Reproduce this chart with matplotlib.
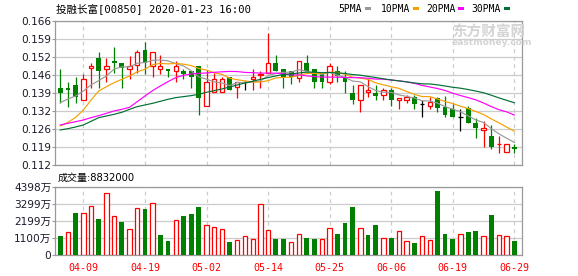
import numpy as np
import matplotlib
matplotlib.use("Agg")
import matplotlib.pyplot as plt
from matplotlib.patches import Rectangle

# ---------------- data ----------------
title_text = "投融长富[00850] 2020-01-23 16:00"
volume_title = "成交量:8832000"

open_ = [0.14100, 0.140875, 0.142125, 0.136375, 0.148375, 0.15225, 0.14825, 0.151125, 0.150375, 0.14825,
         0.149625, 0.15525, 0.14925, 0.14825, 0.148, 0.1475, 0.147375, 0.147375, 0.14925, 0.134125,
         0.139375, 0.139375, 0.145, 0.14125, 0.143125, 0.14425, 0.146, 0.1465, 0.150375, 0.148125,
         0.147375, 0.144625, 0.150375, 0.148125, 0.146125, 0.143375, 0.147375, 0.14525, 0.13925, 0.136375,
         0.139375, 0.13925, 0.138375, 0.14025, 0.136375, 0.136375, 0.1375, 0.135, 0.134125, 0.137125,
         0.13375, 0.133, 0.13, 0.133375, 0.128, 0.12525, 0.123, 0.119875, 0.116875, 0.118875]
close = [0.13925, 0.140375, 0.1375, 0.14425, 0.14925, 0.1475, 0.149125, 0.150375, 0.148375, 0.149125,
         0.154375, 0.1505, 0.154375, 0.149125, 0.147375, 0.14925, 0.146375, 0.14525, 0.137375, 0.14325,
         0.14425, 0.14425, 0.140375, 0.143125, 0.143125, 0.145, 0.146375, 0.15025, 0.1475, 0.14525,
         0.14525, 0.151, 0.1475, 0.143375, 0.143375, 0.14925, 0.1455, 0.143375, 0.136375, 0.142,
         0.14025, 0.138125, 0.140125, 0.136375, 0.137125, 0.1375, 0.135, 0.135, 0.135875, 0.133375,
         0.130875, 0.13, 0.13, 0.128, 0.126, 0.126, 0.118875, 0.12, 0.12, 0.118]
high = [0.148, 0.14325, 0.145, 0.14625, 0.1505, 0.1545, 0.152375, 0.156375, 0.150375, 0.153125,
        0.15525, 0.15825, 0.154375, 0.1535, 0.148, 0.151, 0.14825, 0.147375, 0.14925, 0.14775,
        0.1465, 0.145, 0.145, 0.143125, 0.1435, 0.148, 0.147375, 0.1615, 0.1535, 0.148125,
        0.147375, 0.151, 0.1535, 0.148125, 0.146125, 0.1505, 0.14925, 0.147375, 0.14225, 0.142,
        0.14425, 0.142, 0.140875, 0.141125, 0.137125, 0.138375, 0.138375, 0.136375, 0.1375, 0.1375,
        0.138, 0.135125, 0.133, 0.13425, 0.129625, 0.12875, 0.127, 0.123, 0.12, 0.12]
low = [0.13525, 0.134, 0.13525, 0.136375, 0.141125, 0.141125, 0.143375, 0.1465, 0.141, 0.144375,
       0.1465, 0.146375, 0.14525, 0.14625, 0.14525, 0.143375, 0.1445, 0.141125, 0.131, 0.134125,
       0.139375, 0.139375, 0.140375, 0.137375, 0.140375, 0.140375, 0.141125, 0.1465, 0.1475, 0.141125,
       0.142375, 0.143375, 0.1465, 0.141125, 0.141125, 0.142375, 0.143375, 0.13925, 0.135125, 0.132125,
       0.1375, 0.136375, 0.136375, 0.134125, 0.133125, 0.13525, 0.133125, 0.13025, 0.13325, 0.132125,
       0.13, 0.13, 0.125, 0.128, 0.122125, 0.119, 0.118, 0.11675, 0.116875, 0.11675]

ma5 = [0.1355, 0.13688, 0.138, 0.13988, 0.14213, 0.14378, 0.14553, 0.1481, 0.14893, 0.1489,
       0.15028, 0.15055, 0.15135, 0.1515, 0.15115, 0.15013, 0.1493, 0.14748, 0.14513, 0.1443,
       0.1433, 0.14288, 0.1419, 0.14305, 0.14303, 0.14318, 0.1436, 0.14558, 0.14645, 0.14688,
       0.14693, 0.14785, 0.1473, 0.14648, 0.1461, 0.1469, 0.1458, 0.14498, 0.14358, 0.1433,
       0.1415, 0.14003, 0.13938, 0.13938, 0.1384, 0.13785, 0.13725, 0.1362, 0.1361, 0.13535,
       0.13403, 0.13305, 0.13208, 0.1305, 0.12903, 0.12805, 0.12578, 0.12378, 0.12218, 0.12058]
ma10 = [0.12675, 0.12813, 0.13, 0.13275, 0.1365, 0.13988, 0.1415, 0.143, 0.14425, 0.14551,
        0.14703, 0.14804, 0.14973, 0.15021, 0.15003, 0.1502, 0.14993, 0.14941, 0.14831, 0.14773,
        0.14671, 0.14609, 0.14469, 0.14409, 0.14366, 0.14324, 0.14324, 0.14374, 0.14475, 0.14495,
        0.14505, 0.14573, 0.14644, 0.14646, 0.14649, 0.14691, 0.14683, 0.14614, 0.14503, 0.1447,
        0.1442, 0.14291, 0.14218, 0.14148, 0.14085, 0.13968, 0.13864, 0.13779, 0.13774, 0.13688,
        0.13594, 0.13515, 0.13414, 0.1333, 0.13219, 0.13104, 0.12941, 0.12793, 0.12634, 0.1248]
ma20 = [0.127125, 0.12775, 0.128375, 0.129, 0.129875, 0.130625, 0.1315, 0.132375, 0.133, 0.13375,
        0.135875, 0.138, 0.14, 0.14175, 0.143375, 0.144875, 0.14575, 0.14625, 0.1465, 0.14662,
        0.14687, 0.14706, 0.14721, 0.14715, 0.14684, 0.14672, 0.14658, 0.14658, 0.14653, 0.14634,
        0.14588, 0.14591, 0.14556, 0.14528, 0.14508, 0.14508, 0.14503, 0.14494, 0.14489, 0.14483,
        0.14463, 0.14432, 0.14431, 0.14397, 0.14367, 0.14329, 0.14273, 0.14196, 0.14138, 0.14079,
        0.14007, 0.13903, 0.13816, 0.13739, 0.13652, 0.13536, 0.13403, 0.13286, 0.13204, 0.13084]
ma30 = [0.12525, 0.12575, 0.126375, 0.127125, 0.1285, 0.129875, 0.1305, 0.131125, 0.131875, 0.133,
        0.134, 0.134625, 0.13525, 0.136, 0.13675, 0.137375, 0.13775, 0.138125, 0.138625, 0.139375,
        0.14, 0.140625, 0.141375, 0.142125, 0.142875, 0.1435, 0.14425, 0.144875, 0.1455, 0.14606,
        0.14626, 0.14662, 0.14695, 0.14692, 0.14673, 0.14678, 0.14666, 0.14643, 0.14603, 0.14579,
        0.14532, 0.14491, 0.14443, 0.14401, 0.14367, 0.14328, 0.1429, 0.14255, 0.1425, 0.14218,
        0.14173, 0.14126, 0.14092, 0.14041, 0.13984, 0.13921, 0.13829, 0.13728, 0.13637, 0.13546]

# volume in 万 (10^4 shares)
volume = [1223, 1459, 2703, 2682, 3132, 2317, 3969, 2489, 2124, 1652,
          3004, 2961, 3325, 1287, 901, 2231, 2510, 2639, 3089, 1909,
          1781, 1652, 837, 944, 1201, 1008, 3261, 1588, 1030, 1030,
          837, 1330, 1094, 1030, 1030, 1716, 1352, 2060, 3089, 1716,
          1287, 1931, 1073, 1094, 1523, 880, 772, 1201, 944, 4119,
          1352, 1030, 1330, 1480, 1545, 1201, 2574, 1266, 1201, 883.2]

date_labels = ["04-09", "04-19", "05-02", "05-14", "05-25", "06-06", "06-19", "06-29"]
date_index = [3, 11, 19, 27, 35, 43, 51, 59]

price_ticks = [0.112, 0.11875, 0.1255, 0.13225, 0.139, 0.14575, 0.1525, 0.15925, 0.166]
price_tick_labels = ["0.112", "0.119", "0.126", "0.132", "0.139", "0.146", "0.152", "0.159", "0.166"]
vol_ticks = [0, 1099.5, 2199, 3298.5, 4398]
vol_tick_labels = ["0", "1100万", "2199万", "3299万", "4398万"]

ma_names = ["5PMA", "10PMA", "20PMA", "30PMA"]

# ---------------- style ----------------
RED = "#ff0000"
GREEN = "#008000"
GRID = "#cccccc"
SPINE = "#999999"
MA_COLORS = ["#999999", "#f5a000", "#ff00ff", "#006f35"]

W, H = 578, 276


def fx(px):
    return px / W


def fy(py):
    return 1 - py / H


fig = plt.figure(figsize=(W / 100, H / 100), dpi=100)
fig.patch.set_facecolor("white")

L, R = 55.3, 522.0
ax = fig.add_axes([fx(L), fy(165.3), (R - L) / W, (165.3 - 21.3) / H])
axv = fig.add_axes([fx(L), fy(255.0), (R - L) / W, (255.0 - 186.7) / H])

o = np.array(open_)
c = np.array(close)
hi = np.array(high)
lo = np.array(low)
x = np.arange(len(o))

up = c > o
dn = c < o
flat = c == o

wick_colors = np.where(up, RED, np.where(dn, GREEN, "black"))

# ---- price panel ----
ax.set_axisbelow(True)
ax.vlines(x, lo, hi, colors=wick_colors, lw=0.9, zorder=2)
ax.bar(x[dn], (o - c)[dn], bottom=c[dn], width=0.62, color=GREEN, lw=0, zorder=3)
ax.bar(x[up], (c - o)[up], bottom=o[up], width=0.56, facecolor="white",
       edgecolor=RED, lw=0.9, zorder=3)
ax.hlines(c[flat], x[flat] - 0.32, x[flat] + 0.32, colors="black", lw=0.9, zorder=3)

for vals, col in zip([ma5, ma10, ma20, ma30], MA_COLORS):
    ax.plot(x, vals, color=col, lw=0.85, zorder=4)

ax.set_xlim(-0.65, 60.0)
ax.set_ylim(0.112, 0.166)
ax.set_yticks(price_ticks)
ax.set_yticklabels(price_tick_labels)
ax.set_xticks(date_index)
ax.set_xticklabels([])
ax.tick_params(axis="x", length=0)
ax.tick_params(axis="y", length=2.2, width=0.8, color=SPINE, pad=0.6,
               labelsize=7.6, labelcolor="#1a1a2a")
ax.grid(axis="y", color=GRID, lw=0.9, ls="-")
ax.grid(axis="x", color=GRID, lw=0.9, ls=(0, (3, 3)))
for s in ax.spines.values():
    s.set_color(SPINE)
    s.set_linewidth(0.9)

# ---- volume panel ----
prev = np.concatenate([[np.inf], c[:-1]])
vup = c >= prev
v = np.array(volume)
axv.set_axisbelow(True)
axv.bar(x[~vup], v[~vup], width=0.62, color=GREEN, lw=0, zorder=3)
axv.bar(x[vup], v[vup], width=0.56, facecolor="white", edgecolor=RED, lw=0.9, zorder=3)
axv.set_xlim(-0.65, 60.0)
axv.set_ylim(0, 4398)
axv.set_yticks(vol_ticks)
axv.set_yticklabels(vol_tick_labels, family=["DejaVu Sans", "Noto Sans CJK SC"])
axv.set_xticks(date_index)
axv.set_xticklabels(date_labels, family="DejaVu Sans Mono", fontsize=7.2, color=RED)
axv.tick_params(axis="x", length=0, pad=5.5)
axv.tick_params(axis="y", length=2.2, width=0.8, color=SPINE, pad=0.6,
                labelsize=7.6, labelcolor="#1a1a2a")
axv.grid(axis="y", color=GRID, lw=0.9, ls="-")
axv.grid(axis="x", color=GRID, lw=0.9, ls=(0, (3, 3)))
for s in axv.spines.values():
    s.set_color(SPINE)
    s.set_linewidth(0.9)

# ---- texts ----
fig.text(fx(56.3), fy(8.6), title_text, fontsize=7.6,
         family=["DejaVu Sans Mono", "Noto Sans CJK SC"], va="center", ha="left")
fig.text(fx(57.3), fy(177.5), volume_title, fontsize=7.2,
         family=["DejaVu Sans", "Noto Sans CJK SC"], va="center", ha="left")

legend_text_x = [338.3, 380.7, 426.0, 471.7]
legend_box_x = [365.0, 413.3, 457.7, 504.3]
for name, tx, bx, col in zip(ma_names, legend_text_x, legend_box_x, MA_COLORS):
    fig.text(fx(tx), fy(8.6), name, fontsize=7.0, family="DejaVu Sans Mono",
             va="center", ha="left")
    fig.patches.append(Rectangle((fx(bx), fy(10.0)), 6 / W, 3.2 / H,
                                 transform=fig.transFigure, facecolor=col,
                                 edgecolor="none"))

# watermark
fig.text(fx(452), fy(31.5), "东方财富网", fontsize=10.5, color="#d4d4d4",
         family="Noto Sans CJK SC", weight="bold", va="center", ha="left", zorder=0)
fig.text(fx(452), fy(42.5), "eastmoney.com", fontsize=6.6, color="#d4d4d4",
         family="DejaVu Sans", weight="bold", va="center", ha="left", zorder=0)

fig.savefig("out.png", dpi=100)
